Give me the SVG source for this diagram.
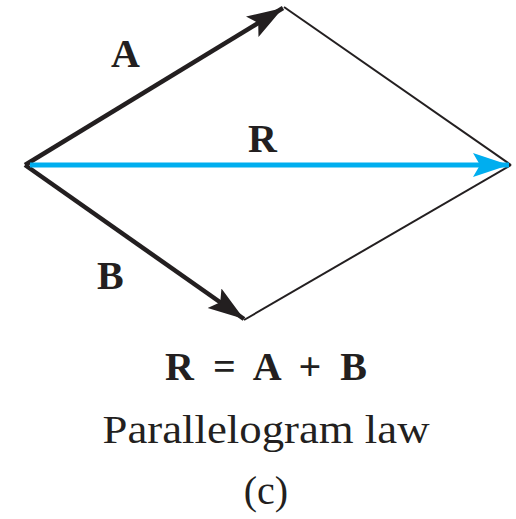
<svg xmlns="http://www.w3.org/2000/svg" width="516" height="519" viewBox="0 0 516 519">
<style>
text{font-family:"Liberation Serif",serif;fill:#231f20}
.lbl{font-weight:bold;font-size:40px}
.cap{font-size:40px;text-anchor:middle}
.vec{stroke:#231f20;stroke-width:4.5;fill:none}
.thin{stroke:#231f20;stroke-width:2;fill:none}
</style>
<defs>
<marker id="ak" markerUnits="userSpaceOnUse" markerWidth="40" markerHeight="30" refX="36" refY="12" orient="auto">
<path d="M0,0 L36,12 L0,24 L7,12 Z" fill="#231f20"/>
</marker>
<marker id="ab" markerUnits="userSpaceOnUse" markerWidth="40" markerHeight="30" refX="36" refY="12" orient="auto">
<path d="M0,0 L36,12 L0,24 L7,12 Z" fill="#00aeef"/>
</marker>
</defs>
<g id="connectors">
<line class="thin" x1="284" y1="7" x2="511" y2="165"/>
<line class="thin" x1="244" y1="320" x2="511" y2="165"/>
<line class="vec" x1="25" y1="165" x2="283" y2="8" marker-end="url(#ak)"/>
<line class="vec" x1="25" y1="165" x2="244" y2="319" marker-end="url(#ak)"/>
<line x1="30" y1="165" x2="509" y2="165" stroke="#00aeef" stroke-width="5" marker-end="url(#ab)"/>
</g>
<g id="labelA"><text class="lbl" x="111" y="67">A</text></g>
<g id="labelR"><text class="lbl" x="248" y="152">R</text></g>
<g id="labelB"><text class="lbl" x="97" y="289">B</text></g>
<g id="equation"><text class="lbl" x="165" y="380" textLength="202" lengthAdjust="spacing">R = A + B</text></g>
<g id="caption"><text class="cap" x="266" y="443" textLength="327" lengthAdjust="spacingAndGlyphs">Parallelogram law</text></g>
<g id="sub"><text class="cap" x="266" y="504">(c)</text></g>
</svg>
